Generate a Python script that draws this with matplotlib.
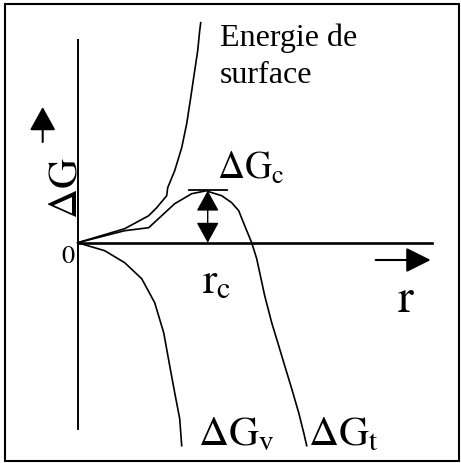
import matplotlib.pyplot as plt
from matplotlib.patches import Rectangle

plt.rcParams['mathtext.fontset'] = 'stix'
plt.rcParams['font.family'] = ['Liberation Serif', 'DejaVu Serif']

# curves (r to the right, deltaG up, origin at the axis cross)
r_surf = [0, 47, 71, 79, 89, 90, 97, 104, 109, 113, 117, 120, 121, 122, 123]
g_surf = [0, 14, 27, 35, 47, 55, 72, 95, 119, 145, 172, 192, 202, 212, 220]

r_tot = [0, 47, 71, 84, 97, 114, 129, 131, 144, 154, 161, 167, 174, 179,
         187, 194, 201, 207, 214, 221, 226, 229]
g_tot = [0, 12, 15, 27, 39, 49, 52, 51, 47, 40, 32, 17, 0, -16,
         -53, -80, -103, -123, -146, -170, -190, -203]

r_vol = [0, 27, 47, 64, 77, 86, 92, 97, 102, 104]
g_vol = [0, -8, -20, -36, -60, -90, -123, -150, -176, -203]

# critical point = top of the total curve
i_c = g_tot.index(max(g_tot))
r_c = r_tot[i_c] + 1
g_c = g_tot[i_c]

fig = plt.figure(figsize=(4.61, 4.64), dpi=100)
ax = fig.add_axes([0, 0, 1, 1])
ax.set_xlim(-77.7, 383.3)
ax.set_ylim(-220.3, 243.7)
ax.axis('off')

# frame around the whole sketch
fig.patches.append(Rectangle((5 / 461, 2 / 464), 454 / 461, 457 / 464,
                             transform=fig.transFigure, fill=False,
                             lw=1.5, ec='black'))

# axes
ax.plot([0, 0], [203, -186], color='black', lw=1.4)
ax.plot([0, 354], [0, 0], color='black', lw=1.9)

# curves
ax.plot(r_surf, g_surf, color='black', lw=1.2)
ax.plot(r_tot, g_tot, color='black', lw=1.2)
ax.plot(r_vol, g_vol, color='black', lw=1.2)

# barrier marks
ax.plot([r_c - 19, r_c + 19], [g_c + 0.5, g_c + 0.5], color='black', lw=1.3)
ax.annotate('', xy=(r_c, g_c), xytext=(r_c, 0),
            arrowprops=dict(arrowstyle='<|-|>,head_length=0.4,head_width=0.22',
                            mutation_scale=32, lw=1.0, color='black',
                            shrinkA=0, shrinkB=0))

# direction arrows
ax.annotate('', xy=(353, -17.3), xytext=(298, -17.3),
            arrowprops=dict(arrowstyle='-|>,head_length=0.4,head_width=0.2',
                            mutation_scale=38, lw=1.5, color='black',
                            shrinkA=0, shrinkB=0))
ax.annotate('', xy=(-35, 135.7), xytext=(-35, 100.7),
            arrowprops=dict(arrowstyle='-|>,head_length=0.38,head_width=0.21',
                            mutation_scale=38, lw=1.5, color='black',
                            shrinkA=0, shrinkB=0))

# labels
ax.text(142.3, 160.7, 'Energie de\nsurface', fontsize=23, ha='left',
        va='baseline', linespacing=1.35)
ax.text(-11, 56, r'$\Delta\mathrm{G}$', fontsize=30, rotation=90,
        ha='center', va='center')
ax.text(139.3, 64.7, r'$\Delta\mathrm{G}_\mathrm{c}$', fontsize=27,
        ha='left', va='baseline')
ax.text(124.3, -49.3, r'$\mathrm{r}_\mathrm{c}$', fontsize=31,
        ha='left', va='baseline')
ax.text(319.3, -68.3, r'$\mathrm{r}$', fontsize=34, ha='left', va='baseline')
ax.text(-9.7, -19.3, r'$\mathrm{0}$', fontsize=19, ha='center', va='baseline')
ax.text(120.3, -201.3, r'$\Delta\mathrm{G}_\mathrm{v}$', fontsize=30,
        ha='left', va='baseline')
ax.text(230.3, -201.3, r'$\Delta\mathrm{G}_\mathrm{t}$', fontsize=30,
        ha='left', va='baseline')

fig.savefig('out.png', dpi=100)
